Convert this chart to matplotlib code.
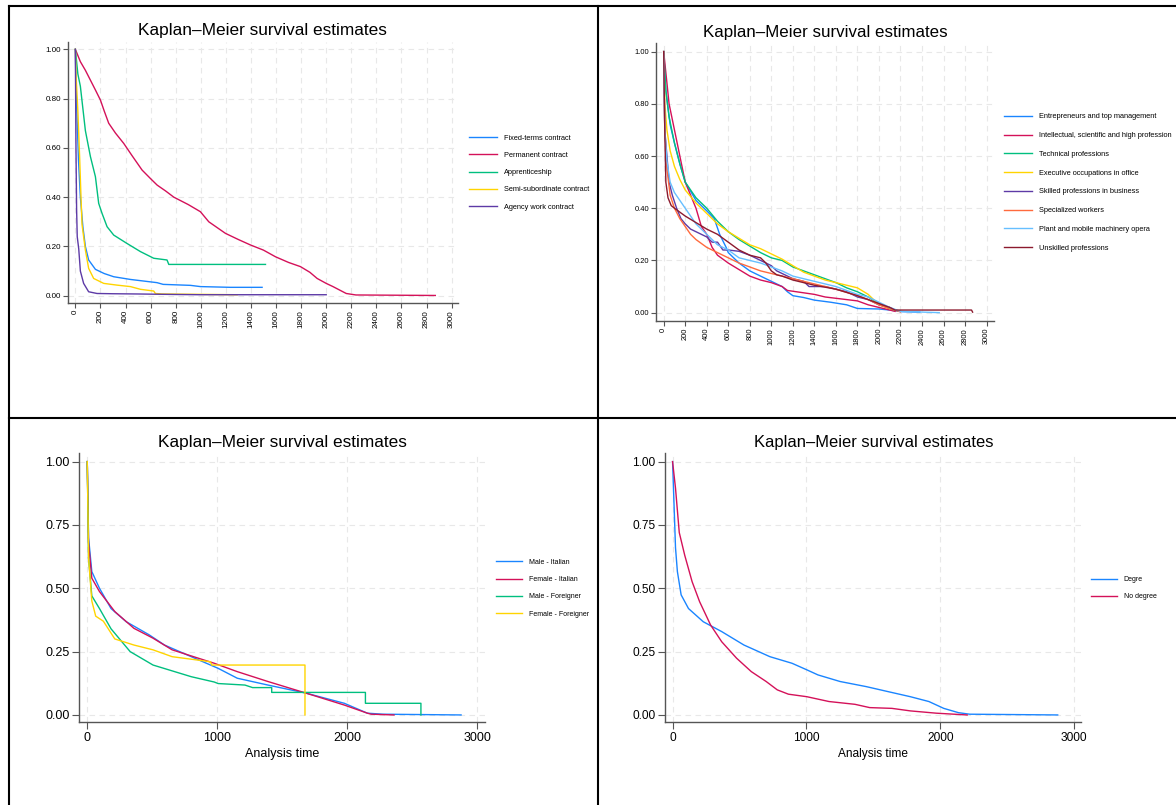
import matplotlib
matplotlib.use("Agg")
import matplotlib.pyplot as plt
from matplotlib.lines import Line2D
from matplotlib.ticker import FormatStrFormatter

plt.rcParams['font.family'] = ['Liberation Sans', 'DejaVu Sans']

TITLE = 'Kaplan\u2013Meier survival estimates'

# --- contract type -------------------------------------------------------
contract_labels = ['Fixed-terms contract', 'Permanent contract', 'Apprenticeship',
                   'Semi-subordinate contract', 'Agency work contract']
fixed_t = [0, 5, 15, 25, 40, 60, 80, 106, 160, 230, 306, 439, 651, 700, 918, 997, 1237, 1489]
fixed_s = [1, 0.85, 0.7, 0.55, 0.4, 0.28, 0.2, 0.145, 0.107, 0.09, 0.077, 0.066, 0.053,
           0.046, 0.042, 0.037, 0.034, 0.034]
perm_t = [0, 40, 80, 120, 160, 200, 230, 266, 320, 386, 450, 532, 600, 652, 720, 785, 900,
          997, 1064, 1197, 1300, 1396, 1500, 1596, 1700, 1795, 1870, 1928, 2000, 2054, 2160,
          2237, 2870]
perm_s = [1, 0.95, 0.915, 0.875, 0.835, 0.794, 0.75, 0.70, 0.66, 0.618, 0.57, 0.51, 0.475,
          0.449, 0.425, 0.40, 0.37, 0.341, 0.30, 0.253, 0.228, 0.206, 0.185, 0.158, 0.135,
          0.118, 0.095, 0.07, 0.05, 0.037, 0.009, 0.003, 0.001]
appr_t = [0, 20, 40, 80, 120, 160, 186, 213, 253, 306, 412, 519, 625, 731, 745, 1516]
appr_s = [1, 0.9, 0.85, 0.67, 0.565, 0.483, 0.375, 0.334, 0.28, 0.246, 0.212, 0.179,
          0.152, 0.145, 0.127, 0.127]
semi_t = [0, 5, 20, 35, 45, 53, 80, 106, 146, 226, 332, 439, 519, 625, 638, 691, 1290]
semi_s = [1, 0.9, 0.75, 0.55, 0.4, 0.29, 0.185, 0.111, 0.070, 0.05, 0.043, 0.037, 0.026,
          0.019, 0.009, 0.007, 0.004]
agency_t = [0, 5, 10, 15, 27, 40, 66, 106, 173, 300, 500, 800, 1000, 2000]
agency_s = [1, 0.6, 0.35, 0.24, 0.19, 0.1, 0.05, 0.016, 0.009, 0.008, 0.007, 0.005,
            0.004, 0.004]

# --- occupation ----------------------------------------------------------
occ_labels = ['Entrepreneurs and top management', 'Intellectual, scientific and high profession',
              'Technical professions', 'Executive occupations in office',
              'Skilled professions in business', 'Specialized workers',
              'Plant and mobile machinery opera', 'Unskilled professions']
entr_t = [0, 20, 60, 100, 150, 200, 300, 400, 470, 520, 580, 600, 700, 800, 900, 1000,
          1100, 1150, 1200, 1300, 1400, 1550, 1700, 1800, 2000, 2100, 2200, 2380]
entr_s = [1, 0.85, 0.72, 0.65, 0.57, 0.5, 0.43, 0.39, 0.36, 0.3, 0.25, 0.23, 0.19, 0.16,
          0.14, 0.12, 0.1, 0.08, 0.065, 0.058, 0.048, 0.04, 0.03, 0.016, 0.014, 0.01, 0.004,
          0.002]
intel_t = [0, 50, 150, 200, 300, 350, 400, 450, 500, 600, 700, 800, 900, 1000, 1100,
           1150, 1200, 1400, 1500, 1700, 1800, 1900, 2000, 2100, 2150]
intel_s = [1, 0.8, 0.6, 0.5, 0.4, 0.33, 0.3, 0.25, 0.22, 0.19, 0.165, 0.14, 0.125, 0.115,
           0.1, 0.085, 0.082, 0.07, 0.06, 0.05, 0.045, 0.03, 0.02, 0.01, 0.005]
tech_t = [0, 20, 50, 100, 150, 200, 300, 400, 500, 600, 700, 800, 900, 1000, 1100, 1200,
          1300, 1400, 1500, 1600, 1700, 1800, 1900, 2000, 2100, 2200]
tech_s = [1, 0.85, 0.75, 0.65, 0.57, 0.5, 0.44, 0.4, 0.35, 0.31, 0.28, 0.255, 0.23, 0.21,
          0.2, 0.175, 0.16, 0.145, 0.13, 0.115, 0.095, 0.08, 0.06, 0.035, 0.015, 0.005]
exec_t = [0, 10, 30, 60, 100, 150, 200, 300, 400, 500, 600, 700, 800, 900, 1000, 1100,
          1200, 1300, 1400, 1500, 1600, 1700, 1800, 1900, 1950, 2000, 2100]
exec_s = [1, 0.8, 0.7, 0.62, 0.56, 0.51, 0.47, 0.42, 0.38, 0.34, 0.31, 0.285, 0.26, 0.245,
          0.225, 0.205, 0.18, 0.155, 0.14, 0.125, 0.115, 0.105, 0.095, 0.07, 0.05, 0.03,
          0.015]
skill_t = [0, 10, 30, 50, 80, 120, 160, 200, 250, 300, 400, 450, 500, 550, 600, 700, 800,
           900, 1000, 1050, 1100, 1200, 1300, 1350, 1500, 1700, 1800, 1900, 2000, 2100, 2150]
skill_s = [1, 0.7, 0.6, 0.5, 0.45, 0.4, 0.36, 0.34, 0.32, 0.31, 0.29, 0.27, 0.27, 0.24,
           0.24, 0.235, 0.22, 0.2, 0.18, 0.16, 0.15, 0.13, 0.12, 0.1, 0.1, 0.08, 0.06, 0.05,
           0.03, 0.02, 0.01]
spec_t = [0, 10, 30, 60, 100, 150, 200, 250, 300, 400, 500, 600, 700, 800, 900, 1000,
          1100, 1200, 1400, 1600, 1800, 1900, 2000, 2100, 2200]
spec_s = [1, 0.7, 0.55, 0.45, 0.4, 0.36, 0.33, 0.3, 0.28, 0.25, 0.23, 0.21, 0.19, 0.175,
          0.16, 0.15, 0.14, 0.13, 0.11, 0.09, 0.065, 0.05, 0.03, 0.015, 0.003]
plant_t = [0, 10, 30, 60, 100, 150, 200, 300, 400, 500, 600, 700, 800, 900, 1000, 1100,
           1200, 1400, 1600, 1800, 1900, 2000, 2100, 2200, 2560]
plant_s = [1, 0.7, 0.58, 0.5, 0.46, 0.43, 0.4, 0.34, 0.3, 0.26, 0.24, 0.21, 0.2, 0.19,
           0.175, 0.16, 0.14, 0.12, 0.1, 0.07, 0.06, 0.04, 0.02, 0.005, 0.0]
unsk_t = [0, 10, 20, 40, 70, 100, 150, 200, 300, 400, 500, 600, 700, 800, 900, 950, 1000,
          1050, 1100, 1200, 1300, 1400, 1600, 1800, 1900, 2000, 2100, 2150, 2860, 2870]
unsk_s = [1, 0.7, 0.5, 0.44, 0.41, 0.4, 0.385, 0.37, 0.345, 0.32, 0.3, 0.27, 0.24, 0.22,
          0.21, 0.19, 0.16, 0.145, 0.14, 0.125, 0.115, 0.105, 0.09, 0.065, 0.05, 0.035,
          0.02, 0.01, 0.01, 0.002]

# --- gender and nationality ----------------------------------------------
group_labels = ['Male - Italian', 'Female - Italian', 'Male - Foreigner', 'Female - Foreigner']
mit_t = [0, 10, 35, 94, 183, 300, 477, 594, 800, 1007, 1154, 1390, 1684, 1978, 2155, 2272, 2876]
mit_s = [1, 0.7, 0.566, 0.5, 0.42, 0.368, 0.316, 0.276, 0.23, 0.184, 0.145, 0.118, 0.086,
         0.046, 0.007, 0.003, 0.0]
fit_t = [0, 10, 35, 94, 212, 359, 506, 653, 977, 1154, 1390, 1684, 1978, 2155, 2184, 2360]
fit_s = [1, 0.68, 0.54, 0.487, 0.408, 0.342, 0.303, 0.257, 0.204, 0.171, 0.132, 0.086,
         0.039, 0.007, 0.003, 0.0]
mfo_t = [0, 10, 35, 94, 183, 330, 506, 800, 977, 1007, 1213, 1272, 1419, 1419, 2140, 2140,
         2567, 2567]
mfo_s = [1, 0.62, 0.47, 0.42, 0.34, 0.25, 0.197, 0.151, 0.13, 0.124, 0.118, 0.108, 0.108,
         0.089, 0.089, 0.046, 0.046, 0.0]
ffo_t = [0, 10, 35, 65, 124, 212, 359, 506, 653, 948, 957, 1675, 1675]
ffo_s = [1, 0.62, 0.45, 0.39, 0.37, 0.30, 0.276, 0.257, 0.23, 0.21, 0.197, 0.197, 0.0]

# --- education -----------------------------------------------------------
degree_labels = ['Degre', 'No degree']
deg_t = [0, 22, 36, 64, 119, 229, 367, 533, 727, 892, 1003, 1086, 1251, 1445, 1610, 1776,
         1914, 2025, 2135, 2218, 2876]
deg_s = [1, 0.66, 0.566, 0.474, 0.42, 0.368, 0.329, 0.276, 0.23, 0.204, 0.178, 0.158,
         0.132, 0.112, 0.092, 0.072, 0.053, 0.026, 0.009, 0.003, 0.0]
nodeg_t = [0, 22, 50, 91, 146, 202, 284, 367, 478, 588, 699, 782, 865, 1003, 1168, 1362,
           1472, 1638, 1776, 1969, 2200]
nodeg_s = [1, 0.895, 0.72, 0.63, 0.526, 0.447, 0.355, 0.289, 0.224, 0.171, 0.132, 0.099,
           0.082, 0.072, 0.053, 0.042, 0.029, 0.026, 0.016, 0.007, 0.0]

BLUE, CRIMSON, GREEN, GOLD = '#1A85FF', '#D41159', '#00BF7F', '#FFD400'
PURPLE, ORANGE, SKY, MAROON = '#5D3AA6', '#FF6A3D', '#66BFFF', '#8C1A2E'

fig = plt.figure(figsize=(11.76, 8.05), dpi=100)


def px_axes(left, top, right, bottom):
    W, H = 1176.0, 805.0
    return fig.add_axes([left / W, 1 - bottom / H, (right - left) / W, (bottom - top) / H])


def style(ax, xticks, xlim, ylim, yticks, size, rotate):
    ax.set_xlim(xlim)
    ax.set_ylim(ylim)
    ax.set_xticks(xticks)
    ax.set_yticks(yticks)
    ax.yaxis.set_major_formatter(FormatStrFormatter('%.2f'))
    ax.grid(True, color='#e8e8e8', linestyle=(0, (5, 4)), linewidth=0.8)
    ax.set_axisbelow(True)
    for side in ('top', 'right'):
        ax.spines[side].set_visible(False)
    for side in ('left', 'bottom'):
        ax.spines[side].set_color('#555555')
        ax.spines[side].set_linewidth(1.0)
    ax.tick_params(direction='out', length=3.5, width=0.8, color='#555555',
                   labelsize=size, pad=1.5)
    if rotate:
        for lab in ax.get_xticklabels():
            lab.set_rotation(90)


def legend(ax, x, y, size, spacing):
    ax.legend(loc='center left', bbox_to_anchor=(x / 1176.0, 1 - y / 805.0),
              bbox_transform=fig.transFigure, frameon=False, fontsize=size,
              handlelength=3.8, handletextpad=0.9, labelspacing=spacing,
              borderpad=0, borderaxespad=0)


# top left: contract type
ax1 = px_axes(67.7, 41.7, 458, 303)
for t, s, c, lab in zip([fixed_t, perm_t, appr_t, semi_t, agency_t],
                        [fixed_s, perm_s, appr_s, semi_s, agency_s],
                        [BLUE, CRIMSON, GREEN, GOLD, PURPLE], contract_labels):
    ax1.plot(t, s, color=c, lw=1.0, label=lab)
style(ax1, range(0, 3001, 200), (-61, 3051), (-0.0296, 1.031),
      [0, 0.2, 0.4, 0.6, 0.8, 1.0], 5.8, True)
ax1.set_title(TITLE, fontsize=12.4, pad=4.5)
legend(ax1, 469, 172.6, 5.3, 1.38)

# top right: occupation
ax2 = px_axes(656, 43, 993.7, 321)
for t, s, c, lab in zip([entr_t, intel_t, tech_t, exec_t, skill_t, spec_t, plant_t, unsk_t],
                        [entr_s, intel_s, tech_s, exec_s, skill_s, spec_s, plant_s, unsk_s],
                        [BLUE, CRIMSON, GREEN, GOLD, PURPLE, ORANGE, SKY, MAROON],
                        occ_labels):
    ax2.plot(t, s, color=c, lw=1.0, label=lab)
style(ax2, range(0, 3001, 200), (-71.5, 3066), (-0.032, 1.033),
      [0, 0.2, 0.4, 0.6, 0.8, 1.0], 5.4, True)
ax2.set_title(TITLE, fontsize=12.2, pad=4.5)
legend(ax2, 1004, 182.5, 5.3, 1.58)

# bottom left: gender and nationality
ax3 = px_axes(79.2, 453, 485, 722.3)
for t, s, c, lab in zip([mit_t, fit_t, mfo_t, ffo_t], [mit_s, fit_s, mfo_s, ffo_s],
                        [BLUE, CRIMSON, GREEN, GOLD], group_labels):
    ax3.plot(t, s, color=c, lw=1.0, label=lab)
style(ax3, [0, 1000, 2000, 3000], (-62, 3060), (-0.029, 1.034),
      [0, 0.25, 0.5, 0.75, 1.0], 9, False)
ax3.tick_params(length=5, pad=2)
ax3.set_title(TITLE, fontsize=12.4, pad=4.5)
ax3.set_xlabel('Analysis time', fontsize=9, labelpad=3)
legend(ax3, 496, 588.3, 5.0, 1.48)

# bottom right: education
ax4 = px_axes(665.2, 453, 1081.4, 722.3)
for t, s, c, lab in zip([deg_t, nodeg_t], [deg_s, nodeg_s], [BLUE, CRIMSON], degree_labels):
    ax4.plot(t, s, color=c, lw=1.0, label=lab)
style(ax4, [0, 1000, 2000, 3000], (-55, 3053), (-0.029, 1.034),
      [0, 0.25, 0.5, 0.75, 1.0], 8.6, False)
ax4.tick_params(length=5, pad=2)
ax4.set_title(TITLE, fontsize=11.9, pad=4.5)
ax4.set_xlabel('Analysis time', fontsize=8.6, labelpad=3)
legend(ax4, 1091, 588.3, 5.0, 1.48)

# frame lines separating the four panels
W, H = 1176.0, 805.0
for xs, ys in [([8.5, 8.5], [6.5, 805]), ([8.5, 1176], [6.5, 6.5]),
               ([597.5, 597.5], [6.5, 805]), ([8.5, 1176], [418.5, 418.5])]:
    fig.add_artist(Line2D([x / W for x in xs], [1 - y / H for y in ys],
                          transform=fig.transFigure, color='black', lw=1.5))

fig.savefig('out.png', dpi=100)
